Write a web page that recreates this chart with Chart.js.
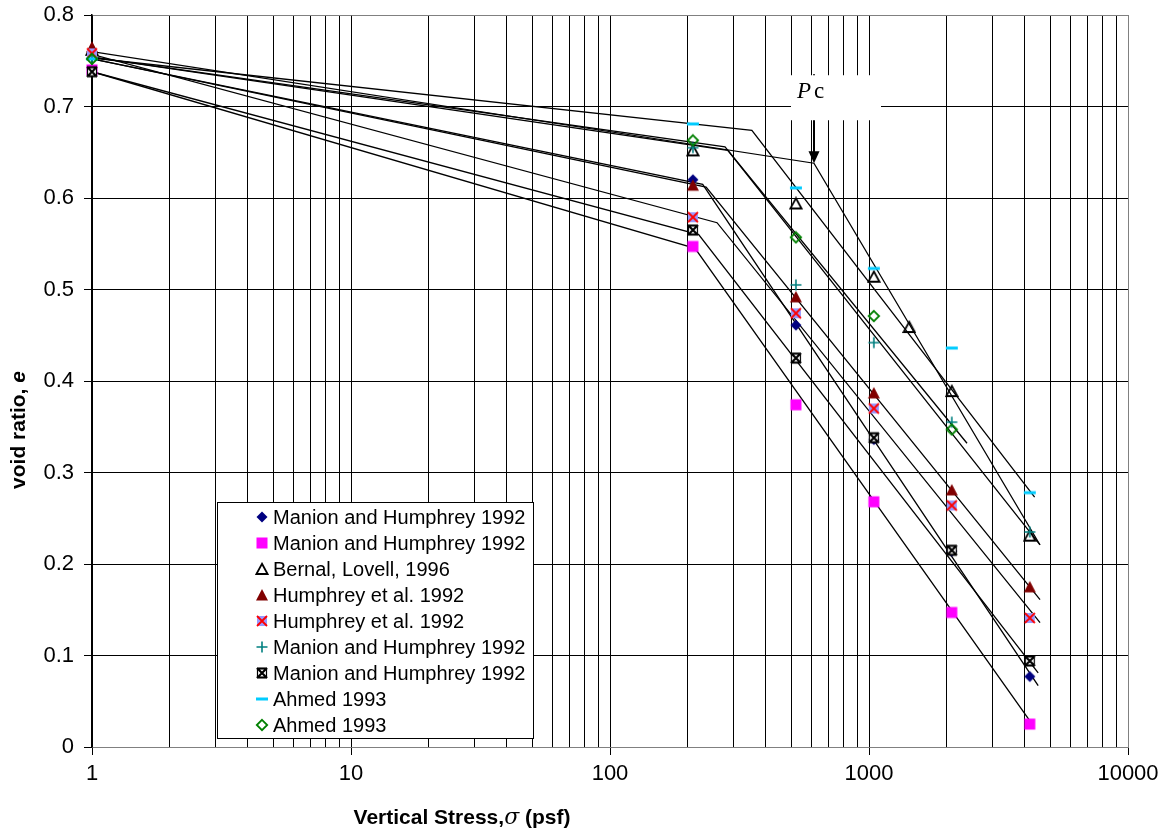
<!DOCTYPE html>
<html lang="en">
<head>
<meta charset="UTF-8">
<title>Void ratio vs vertical stress</title>
<script src="https://cdn.jsdelivr.net/npm/chart.js"></script>
<style>
  html, body { margin: 0; padding: 0; background: #fff; }
  #wrap { width: 1167px; height: 838px; position: relative; }
</style>
</head>
<body>
<div id="wrap"><canvas id="voidChart"></canvas></div>
<script>
// stress steps (psf) of the tests
var stress = [1, 209, 522, 1044, 2088, 4176];
var bernalStress = [1, 209, 522, 1044, 1430, 2088, 4176];

// void ratio e for each series
var manionA   = [0.760, 0.620, 0.461, 0.336, 0.214, 0.077];
var manionB   = [0.740, 0.547, 0.374, 0.268, 0.147, 0.025];
var bernal    = [0.762, 0.652, 0.594, 0.514, 0.459, 0.389, 0.231];
var humphreyA = [0.765, 0.614, 0.492, 0.387, 0.281, 0.175];
var humphreyB = [0.758, 0.579, 0.474, 0.370, 0.264, 0.141];
var manionC   = [0.752, 0.655, 0.505, 0.442, 0.355, 0.235];
var manionD   = [0.738, 0.565, 0.425, 0.338, 0.215, 0.094];
var ahmedA    = [0.752, 0.681, 0.611, 0.523, 0.436, 0.278];
var ahmedB    = [0.752, 0.663, 0.557, 0.471, 0.347, null];

// bilinear fit lines, [stress, e]
var fitManionA   = [[1, 0.752], [228, 0.615], [4500, 0.067]];
var fitManionB   = [[1, 0.738], [213, 0.545], [4220, 0.027]];
var fitBernal    = [[1, 0.760], [613, 0.638], [4570, 0.221]];
var fitHumphreyA = [[1, 0.752], [235, 0.612], [4575, 0.161]];
var fitHumphreyB = [[1, 0.757], [259, 0.573], [4575, 0.136]];
var fitManionC   = [[1, 0.754], [285, 0.652], [4575, 0.221]];
var fitManionD   = [[1, 0.738], [220, 0.560], [4500, 0.081]];
var fitAhmedA    = [[1, 0.753], [353, 0.674], [4360, 0.273]];
var fitAhmedB    = [[1, 0.754], [278, 0.656], [2390, 0.332]];

// preconsolidation pressure marked on the Bernal curve
var pcStress = 613, pcE = 0.638;

var xDecades = [1, 10, 100, 1000, 10000];
var yTicks = [0, 0.1, 0.2, 0.3, 0.4, 0.5, 0.6, 0.7, 0.8];

var FONT = "'Liberation Sans', Arial, sans-serif";

// little canvases used as point styles (and in the legend)
function marker(kind) {
    var c = document.createElement('canvas');
    c.width = 14; c.height = 14;
    var g = c.getContext('2d');
    g.lineJoin = 'miter';
    if (kind == 'diamond') {
        g.fillStyle = '#000080';
        g.beginPath(); g.moveTo(7, 1.5); g.lineTo(12.5, 7); g.lineTo(7, 12.5); g.lineTo(1.5, 7); g.closePath(); g.fill();
    } else if (kind == 'square') {
        g.fillStyle = '#FF00FF';
        g.fillRect(1.5, 1.5, 11, 11);
    } else if (kind == 'openTri') {
        g.strokeStyle = '#000'; g.lineWidth = 1.8;
        g.beginPath(); g.moveTo(7, 1.8); g.lineTo(12.6, 12); g.lineTo(1.4, 12); g.closePath(); g.stroke();
    } else if (kind == 'tri') {
        g.fillStyle = '#800000';
        g.beginPath(); g.moveTo(7, 1); g.lineTo(13, 12.5); g.lineTo(1, 12.5); g.closePath(); g.fill();
    } else if (kind == 'xsq') {
        g.fillStyle = '#9999FF';
        g.fillRect(2, 2, 10, 10);
        g.strokeStyle = '#FF0000'; g.lineWidth = 1.8;
        g.beginPath(); g.moveTo(2, 2); g.lineTo(12, 12); g.moveTo(12, 2); g.lineTo(2, 12); g.stroke();
    } else if (kind == 'plus') {
        g.strokeStyle = '#008080'; g.lineWidth = 1.6;
        g.beginPath(); g.moveTo(7, 1.5); g.lineTo(7, 12.5); g.moveTo(1.5, 7); g.lineTo(12.5, 7); g.stroke();
    } else if (kind == 'boxX') {
        g.fillStyle = '#fff'; g.fillRect(2, 2, 10, 10);
        g.strokeStyle = '#000'; g.lineWidth = 1.2;
        g.strokeRect(2.5, 2.5, 9, 9);
        g.lineWidth = 2.2;
        g.beginPath(); g.moveTo(2, 2); g.lineTo(12, 12); g.moveTo(12, 2); g.lineTo(2, 12);
        g.moveTo(2, 2.5); g.lineTo(12, 2.5); g.moveTo(2, 11.5); g.lineTo(12, 11.5); g.stroke();
    } else if (kind == 'dash') {
        g.fillStyle = '#00CCFF';
        g.fillRect(1, 5.5, 12, 3);
    } else if (kind == 'openDiamond') {
        g.strokeStyle = '#008000'; g.lineWidth = 1.8;
        g.beginPath(); g.moveTo(7, 1.8); g.lineTo(12.2, 7); g.lineTo(7, 12.2); g.lineTo(1.8, 7); g.closePath(); g.stroke();
    }
    return c;
}

var series = [
    { label: 'Manion and Humphrey 1992', x: stress, e: manionA, fit: fitManionA, mark: 'diamond' },
    { label: 'Manion and Humphrey 1992', x: stress, e: manionB, fit: fitManionB, mark: 'square' },
    { label: 'Bernal, Lovell, 1996', x: bernalStress, e: bernal, fit: fitBernal, mark: 'openTri' },
    { label: 'Humphrey et al. 1992', x: stress, e: humphreyA, fit: fitHumphreyA, mark: 'tri' },
    { label: 'Humphrey et al. 1992', x: stress, e: humphreyB, fit: fitHumphreyB, mark: 'xsq' },
    { label: 'Manion and Humphrey 1992', x: stress, e: manionC, fit: fitManionC, mark: 'plus' },
    { label: 'Manion and Humphrey 1992', x: stress, e: manionD, fit: fitManionD, mark: 'boxX' },
    { label: 'Ahmed 1993', x: stress, e: ahmedA, fit: fitAhmedA, mark: 'dash' },
    { label: 'Ahmed 1993', x: stress, e: ahmedB, fit: fitAhmedB, mark: 'openDiamond' }
];

var datasets = [];
series.forEach(function (s, i) {
    s.img = marker(s.mark);
    var pts = [];
    s.x.forEach(function (xv, j) {
        if (s.e[j] !== null) pts.push({ x: xv, y: s.e[j] });
    });
    datasets.push({
        label: s.label,
        data: pts,
        showLine: false,
        pointStyle: s.img,
        pointRadius: 5,
        pointHoverRadius: 5,
        clip: false,
        order: 20 - i   // later series on top, like the original
    });
});
series.forEach(function (s) {
    datasets.push({
        label: 'fit',
        data: s.fit.map(function (p) { return { x: p[0], y: p[1] }; }),
        showLine: true,
        borderColor: '#000',
        borderWidth: 1.3,
        pointRadius: 0,
        fill: false,
        order: 40
    });
});

function isDecade(v) {
    return Math.abs(Math.log10(v) - Math.round(Math.log10(v))) < 1e-9;
}

var decor = {
    id: 'decor',
    afterDatasetsDraw: function (chart) {
        var ctx = chart.ctx, ca = chart.chartArea;
        var xs = chart.scales.x, ys = chart.scales.y;

        // Pc arrow and label
        var px = Math.round(xs.getPixelForValue(pcStress)), py = ys.getPixelForValue(pcE);
        ctx.save();
        ctx.strokeStyle = '#000'; ctx.lineWidth = 2;
        ctx.beginPath(); ctx.moveTo(px, py - 89); ctx.lineTo(px, py - 10); ctx.stroke();
        ctx.fillStyle = '#000';
        ctx.beginPath(); ctx.moveTo(px - 5.5, py - 12); ctx.lineTo(px + 5.5, py - 12); ctx.lineTo(px, py); ctx.closePath(); ctx.fill();
        ctx.fillStyle = '#fff';
        ctx.fillRect(px - 23, py - 88, 90, 45);
        ctx.fillStyle = '#000';
        ctx.textBaseline = 'alphabetic';
        ctx.font = "italic 23px 'Liberation Serif', 'Times New Roman', serif";
        ctx.fillText('P', px - 17, py - 65);
        ctx.font = "23px 'Liberation Serif', 'Times New Roman', serif";
        ctx.fillText('c', px + 0, py - 65);

        // legend box inside the plot
        var lx = ca.left + 125, ly = ca.top + 487, lw = 316, lh = 236;
        ctx.fillStyle = '#fff';
        ctx.fillRect(lx, ly, lw, lh);
        ctx.strokeStyle = '#000'; ctx.lineWidth = 1;
        ctx.strokeRect(lx + 0.5, ly + 0.5, lw, lh);
        ctx.font = '20px ' + FONT;
        ctx.textBaseline = 'middle';
        ctx.textAlign = 'left';
        series.forEach(function (s, i) {
            var cy = ly + 15 + i * 26;
            ctx.drawImage(s.img, lx + 45 - 7, cy - 7);
            ctx.fillStyle = '#000';
            ctx.fillText(s.label, lx + 56, cy + 1);
        });
        ctx.restore();
    },
    afterDraw: function (chart) {
        var ctx = chart.ctx;
        ctx.save();
        ctx.fillStyle = '#000';
        ctx.textBaseline = 'middle';

        // x title with symbol sigma
        var bold = 'bold 21px ' + FONT;
        var sig = "italic 22px 'DejaVu Serif', serif";
        var p1 = 'Vertical Stress,', p2 = '\u03C3', p3 = ' (psf)';
        ctx.font = bold; var w1 = ctx.measureText(p1).width, w3 = ctx.measureText(p3).width;
        ctx.font = sig; var w2 = ctx.measureText(p2).width;
        var tx = 462 - (w1 + w2 + w3) / 2, ty = 818;
        ctx.textAlign = 'left';
        ctx.font = bold; ctx.fillText(p1, tx, ty);
        ctx.font = sig; ctx.fillText(p2, tx + w1, ty);
        ctx.font = bold; ctx.fillText(p3, tx + w1 + w2, ty);

        // y title, rotated
        ctx.translate(19, 430);
        ctx.rotate(-Math.PI / 2);
        var q1 = 'void ratio, ', q2 = 'e';
        ctx.font = bold; var v1 = ctx.measureText(q1).width;
        ctx.font = 'bold italic 21px ' + FONT; var v2 = ctx.measureText(q2).width;
        var sx = -(v1 + v2) / 2;
        ctx.font = bold; ctx.fillText(q1, sx, 0);
        ctx.font = 'bold italic 21px ' + FONT; ctx.fillText(q2, sx + v1, 0);
        ctx.restore();
    }
};

var chart = new Chart(document.getElementById('voidChart'), {
    type: 'scatter',
    data: { datasets: datasets },
    options: {
        responsive: true,
        maintainAspectRatio: false,
        animation: false,
        layout: { padding: { top: 15, right: 39, left: 0, bottom: 0 } },
        plugins: { legend: { display: false }, tooltip: { enabled: false } },
        scales: {
            x: {
                type: 'logarithmic',
                min: 1,
                max: 10000,
                afterBuildTicks: function (scale) {
                    var t = [];
                    xDecades.forEach(function (d) {
                        for (var m = 1; m <= 9; m++) {
                            if (d * m <= 10000) t.push({ value: d * m });
                        }
                    });
                    scale.ticks = t;
                },
                afterFit: function (scale) {
                    scale.height = 91;
                    scale.paddingLeft = 0;
                    scale.paddingRight = 0;
                },
                ticks: {
                    autoSkip: false,
                    maxRotation: 0,
                    padding: 6,
                    color: '#000',
                    font: { family: FONT, size: 22 },
                    callback: function (v) { return isDecade(v) ? String(Math.round(v)) : ''; }
                },
                grid: {
                    color: function (c) { return c.tick && c.tick.value === 10000 ? '#808080' : '#000'; },
                    lineWidth: 1,
                    tickLength: 8,
                    tickColor: function (c) { return c.tick && isDecade(c.tick.value) ? '#000' : 'rgba(0,0,0,0)'; }
                },
                border: { color: '#808080', width: 1 }
            },
            y: {
                min: 0,
                max: 0.8,
                afterBuildTicks: function (scale) {
                    scale.ticks = yTicks.map(function (v) { return { value: v }; });
                },
                afterFit: function (scale) {
                    scale.width = 92;
                    scale.paddingTop = 0;
                    scale.paddingBottom = 0;
                },
                ticks: {
                    padding: 10,
                    color: '#000',
                    font: { family: FONT, size: 22 },
                    callback: function (v) { return v === 0 ? '0' : Number(v).toFixed(1); }
                },
                grid: {
                    color: function (c) { return c.tick && c.tick.value === 0.8 ? '#808080' : '#000'; },
                    lineWidth: 1,
                    tickLength: 8,
                    tickColor: '#000'
                },
                border: { color: '#000', width: 1.5 }
            }
        }
    },
    plugins: [decor]
});
</script>
</body>
</html>
